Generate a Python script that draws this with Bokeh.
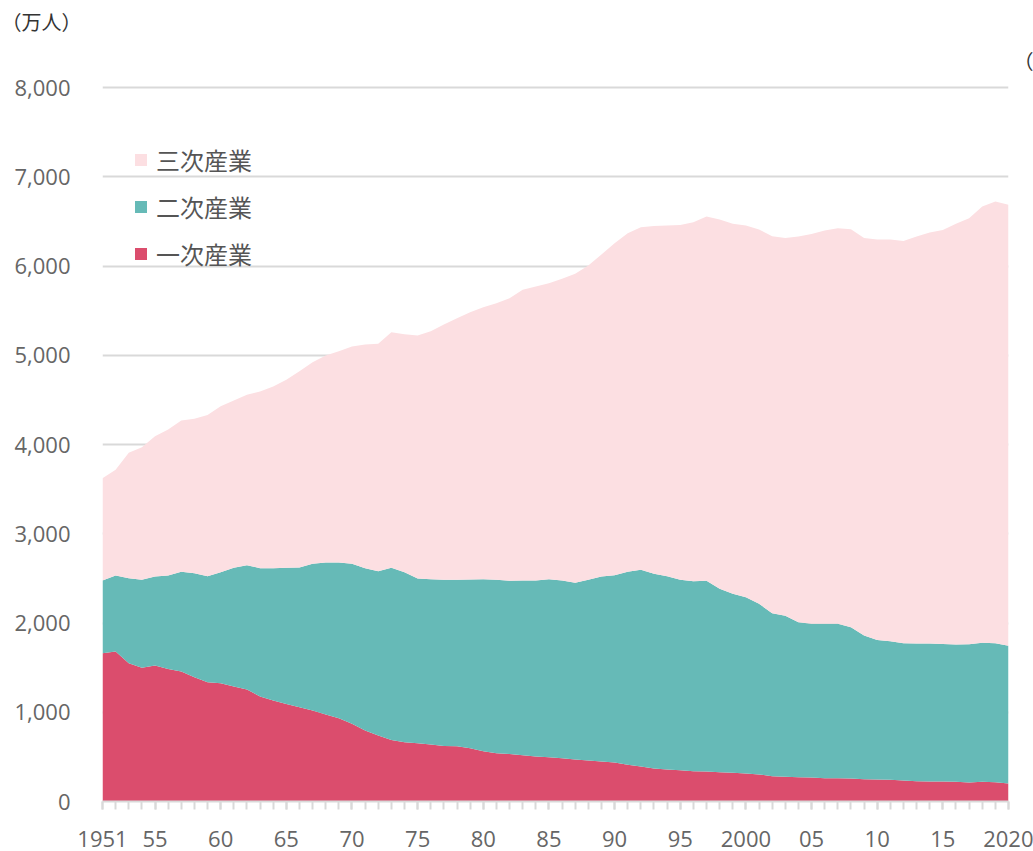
from bokeh.plotting import figure
from bokeh.models import (ColumnDataSource, Range1d, FixedTicker, Legend, LegendItem,
                          Title, NumeralTickFormatter)
from bokeh.embed import file_html
from bokeh.resources import INLINE

# ---------------- data ----------------
years = list(range(1951, 2021))

primary = [1662, 1681, 1550, 1498, 1524, 1486, 1456, 1393, 1337, 1325,
           1288, 1255, 1176, 1131, 1093, 1056, 1020, 975, 934, 870,
           795, 740, 690, 665, 653, 638, 622, 620, 597, 563,
           541, 533, 518, 504, 497, 484, 472, 459, 448, 437,
           411, 392, 370, 359, 351, 340, 336, 329, 321, 314,
           303, 284, 276, 273, 269, 261, 261, 258, 250, 247,
           243, 235, 228, 224, 224, 221, 213, 221, 217, 202]

secondary = [814, 851, 952, 986, 997, 1046, 1118, 1165, 1187, 1244,
             1330, 1393, 1438, 1483, 1525, 1566, 1643, 1703, 1744, 1793,
             1819, 1840, 1928, 1904, 1846, 1853, 1863, 1864, 1890, 1928,
             1943, 1940, 1958, 1972, 1994, 1992, 1978, 2025, 2073, 2099,
             2163, 2204, 2181, 2165, 2133, 2129, 2137, 2054, 2006, 1976,
             1912, 1826, 1804, 1736, 1722, 1730, 1730, 1695, 1610, 1564,
             1553, 1539, 1542, 1546, 1542, 1538, 1549, 1557, 1557, 1542]

tertiary = [1147, 1184, 1405, 1486, 1572, 1636, 1695, 1730, 1808, 1860,
            1875, 1909, 1980, 2036, 2107, 2199, 2259, 2319, 2367, 2435,
            2507, 2548, 2640, 2667, 2722, 2779, 2859, 2931, 2996, 3048,
            3100, 3167, 3257, 3294, 3317, 3381, 3463, 3522, 3608, 3720,
            3794, 3838, 3898, 3930, 3977, 4022, 4082, 4138, 4146, 4164,
            4195, 4223, 4235, 4321, 4369, 4407, 4433, 4459, 4455, 4486,
            4501, 4506, 4560, 4605, 4639, 4714, 4774, 4889, 4949, 4942]

series_names = ["一次産業", "二次産業", "三次産業"]
series_colors = ["#DB4D6D", "#66BAB7", "#FCDFE2"]

x_tick_years = [1951, 1955, 1960, 1965, 1970, 1975, 1980, 1985, 1990,
                1995, 2000, 2005, 2010, 2015, 2020]
x_tick_labels = ["1951", "55", "60", "65", "70", "75", "80", "85", "90",
                 "95", "2000", "05", "10", "15", "2020"]
y_ticks = [0, 1000, 2000, 3000, 4000, 5000, 6000, 7000, 8000]

unit_label = "（万人）"
year_label = "（年）"

# ---------------- layout ----------------
W, H = 1033, 851
BL, BR, BT, BB = 102, 25, 84, 50
XMIN, XMAX = years[0], years[-1]
YMIN, YMAX = 0, 8034   # a little head-room so the 8,000 grid line is visible

src = ColumnDataSource(dict(year=years, primary=primary,
                            secondary=secondary, tertiary=tertiary))

p = figure(width=W, height=H, output_backend="svg", toolbar_location=None,
           x_range=Range1d(XMIN, XMAX), y_range=Range1d(YMIN, YMAX),
           min_border_left=BL, min_border_right=BR,
           min_border_top=BT, min_border_bottom=BB)
p.outline_line_color = None
p.background_fill_color = "white"
p.border_fill_color = "white"

renderers = p.varea_stack(["primary", "secondary", "tertiary"], x="year",
                          color=series_colors, source=src)

# x axis
xa = p.xaxis[0]
xa.ticker = FixedTicker(ticks=x_tick_years, minor_ticks=years)
xa.major_label_overrides = {y: l for y, l in zip(x_tick_years, x_tick_labels)}
xa.axis_line_color = "#d9d9d9"
xa.axis_line_width = 2
xa.major_tick_line_color = "#d9d9d9"
xa.major_tick_line_width = 2
xa.minor_tick_line_color = "#d9d9d9"
xa.minor_tick_line_width = 2
xa.major_tick_in = 0
xa.major_tick_out = 8
xa.minor_tick_in = 0
xa.minor_tick_out = 8
xa.major_label_standoff = 21
xa.major_label_text_font = "Open Sans"
xa.major_label_text_font_size = "22px"
xa.major_label_text_color = "#666666"

# y axis
ya = p.yaxis[0]
ya.ticker = FixedTicker(ticks=y_ticks)
ya.formatter = NumeralTickFormatter(format="0,0")
ya.axis_line_color = None
ya.major_tick_line_color = None
ya.minor_tick_line_color = None
ya.major_tick_in = 0
ya.major_tick_out = 0
ya.major_label_standoff = 32
ya.major_label_text_font = "Open Sans"
ya.major_label_text_font_size = "22px"
ya.major_label_text_color = "#666666"

p.xgrid.grid_line_color = None
p.ygrid.grid_line_color = "#d9d9d9"
p.ygrid.grid_line_width = 2

# legend (top item = 三次産業)
items = [LegendItem(label=series_names[i], renderers=[renderers[i]]) for i in (2, 1, 0)]
legend = Legend(items=items, location=(31, 530), orientation="vertical",
                border_line_alpha=0, background_fill_alpha=0,
                padding=0, margin=0, spacing=12,
                glyph_width=15, glyph_height=15, label_height=24,
                label_standoff=8,
                label_text_font="Noto Sans CJK JP", label_text_font_size="24px",
                label_text_color="#555555")
p.add_layout(legend)

# unit labels as titles (outside the frame); outer = 万人, inner = 年
p.title.text = unit_label
p.title.align = "left"
p.title.offset = -101
p.title.standoff = 6
p.title.text_font = "Noto Sans CJK JP"
p.title.text_font_size = "20px"
p.title.text_font_style = "normal"
p.title.text_color = "#333333"

p.add_layout(Title(text=year_label, align="right", offset=-65, standoff=15,
                   vertical_align="top",
                   text_font="Noto Sans CJK JP", text_font_size="20px",
                   text_font_style="normal", text_color="#333333"), "above")

open("out.html", "w").write(file_html(p, INLINE))
